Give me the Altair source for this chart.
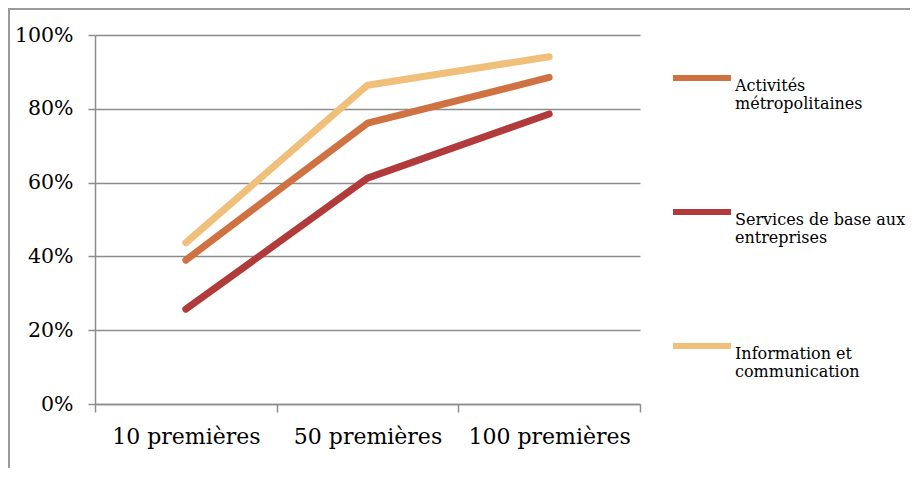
import altair as alt
import pandas as pd

categories = ["10 premières", "50 premières", "100 premières"]
series = ["Activités\nmétropolitaines", "Services de base aux\nentreprises", "Information et\ncommunication"]
activites = [0.39, 0.761, 0.885]
services = [0.257, 0.612, 0.786]
information = [0.437, 0.864, 0.941]
colors = ["#CF7140", "#B13A3B", "#F0BF7A"]

rows = []
for name, vals in zip(series, [activites, services, information]):
    for c, v in zip(categories, vals):
        rows.append({"cat": c, "serie": name, "val": v})
df = pd.DataFrame(rows)

FONT = "DejaVu Serif"
GRID = "#8c8c8c"

lines = alt.Chart(df).mark_line(strokeWidth=7, strokeCap="round", strokeJoin="round").encode(
    x=alt.X("cat:N", sort=categories, title=None,
            scale=alt.Scale(type="band", paddingInner=0, paddingOuter=0),
            axis=alt.Axis(labelAngle=0, tickBand="extent", tickSize=8, tickColor=GRID,
                          tickWidth=1.5, domainColor=GRID, domainWidth=1.5,
                          labelFont=FONT, labelFontSize=22, labelColor="#000",
                          labelPadding=14, grid=False)),
    y=alt.Y("val:Q", title=None,
            scale=alt.Scale(domain=[0, 1], nice=False),
            axis=alt.Axis(format="%", values=[0, 0.2, 0.4, 0.6, 0.8, 1.0], tickSize=7,
                          tickColor=GRID, tickWidth=1.5, domainColor=GRID, domainWidth=1.5,
                          gridColor=GRID, gridWidth=1.5, grid=True, gridOpacity=1,
                          labelFont=FONT, labelFontSize=20.5, labelColor="#000",
                          labelPadding=15)),
    color=alt.Color("serie:N", sort=series,
                    scale=alt.Scale(domain=series, range=colors),
                    legend=alt.Legend(title=None, orient="none", legendX=575, legendY=11,
                                      symbolType="stroke", symbolSize=3364,
                                      symbolStrokeWidth=6, labelFont=FONT,
                                      labelFontSize=16, labelColor="#000",
                                      labelBaseline="top", labelOffset=1,
                                      labelExpr="split(datum.label, '\\n')",
                                      labelLimit=300, rowPadding=68)),
)

frame = alt.Chart(pd.DataFrame({"a": [0]})).mark_rect(
    fill=None, stroke="#9a9a9a", strokeWidth=2
).encode(
    x=alt.value(-86), x2=alt.value(900), y=alt.value(-26), y2=alt.value(600)
)

chart = alt.layer(frame, lines).properties(
    width=545, height=369,
    autosize=alt.AutoSizeParams(type="none"),
    padding={"left": 87, "top": 27, "right": 270, "bottom": 64},
).configure_view(stroke=None)

chart.save("out.html", embed_options={"renderer": "svg", "actions": False})
